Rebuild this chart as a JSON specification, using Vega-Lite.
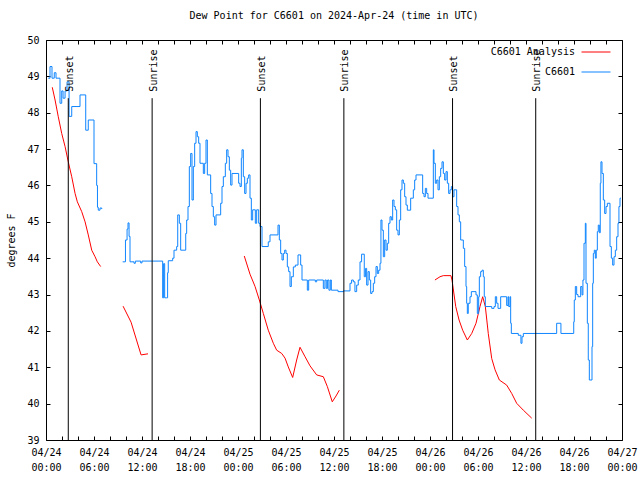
{
  "$schema": "https://vega.github.io/schema/vega-lite/v6.json",
  "width": 576,
  "height": 400,
  "autosize": "none",
  "padding": {"left": 46, "top": 40, "right": 18, "bottom": 40},
  "background": "white",
  "title": {"text": "Dew Point for C6601 on 2024-Apr-24 (time in UTC)", "font": "DejaVu Sans Mono", "fontSize": 10, "fontWeight": "normal", "color": "#000000", "anchor": "middle", "offset": 14},
  "config": {
    "font": "DejaVu Sans Mono",
    "view": {"stroke": "#000000", "strokeWidth": 1},
    "axis": {"labelFont": "DejaVu Sans Mono", "labelFontSize": 10, "labelColor": "#000000", "tickColor": "#000000", "tickSize": 4, "tickWidth": 1, "domain": false, "grid": false, "titleFont": "DejaVu Sans Mono", "titleFontSize": 10, "titleFontWeight": "normal", "titleColor": "#000000"}
  },
  "datasets": {
    "analysis": [
      {"seg":"a1","t":"2024-04-24T00:47:00Z","dp":48.7},{"seg":"a1","t":"2024-04-24T01:08:00Z","dp":48.35},{"seg":"a1","t":"2024-04-24T01:32:00Z","dp":47.89},{"seg":"a1","t":"2024-04-24T01:58:00Z","dp":47.43},{"seg":"a1","t":"2024-04-24T02:23:00Z","dp":47.07},{"seg":"a1","t":"2024-04-24T02:47:00Z","dp":46.65},{"seg":"a1","t":"2024-04-24T03:13:00Z","dp":46.24},{"seg":"a1","t":"2024-04-24T03:38:00Z","dp":45.78},{"seg":"a1","t":"2024-04-24T03:55:00Z","dp":45.55},{"seg":"a1","t":"2024-04-24T04:28:00Z","dp":45.28},{"seg":"a1","t":"2024-04-24T04:53:00Z","dp":45.0},{"seg":"a1","t":"2024-04-24T05:17:00Z","dp":44.64},{"seg":"a1","t":"2024-04-24T05:43:00Z","dp":44.22},{"seg":"a1","t":"2024-04-24T06:08:00Z","dp":44.04},{"seg":"a1","t":"2024-04-24T06:25:00Z","dp":43.9},{"seg":"a1","t":"2024-04-24T06:50:00Z","dp":43.77},
      {"seg":"a2","t":"2024-04-24T09:38:00Z","dp":42.68},{"seg":"a2","t":"2024-04-24T10:38:00Z","dp":42.24},{"seg":"a2","t":"2024-04-24T11:53:00Z","dp":41.34},{"seg":"a2","t":"2024-04-24T12:45:00Z","dp":41.37},
      {"seg":"a3","t":"2024-04-25T00:47:00Z","dp":44.06},{"seg":"a3","t":"2024-04-25T01:30:00Z","dp":43.56},{"seg":"a3","t":"2024-04-25T02:08:00Z","dp":43.22},{"seg":"a3","t":"2024-04-25T02:40:00Z","dp":42.85},{"seg":"a3","t":"2024-04-25T03:10:00Z","dp":42.48},{"seg":"a3","t":"2024-04-25T03:47:00Z","dp":42.02},{"seg":"a3","t":"2024-04-25T04:25:00Z","dp":41.66},{"seg":"a3","t":"2024-04-25T04:50:00Z","dp":41.47},{"seg":"a3","t":"2024-04-25T05:28:00Z","dp":41.38},{"seg":"a3","t":"2024-04-25T05:53:00Z","dp":41.25},{"seg":"a3","t":"2024-04-25T06:17:00Z","dp":41.01},{"seg":"a3","t":"2024-04-25T06:50:00Z","dp":40.72},{"seg":"a3","t":"2024-04-25T07:20:00Z","dp":41.2},{"seg":"a3","t":"2024-04-25T07:45:00Z","dp":41.55},{"seg":"a3","t":"2024-04-25T08:23:00Z","dp":41.29},{"seg":"a3","t":"2024-04-25T09:00:00Z","dp":41.04},{"seg":"a3","t":"2024-04-25T09:50:00Z","dp":40.79},{"seg":"a3","t":"2024-04-25T10:40:00Z","dp":40.74},{"seg":"a3","t":"2024-04-25T11:10:00Z","dp":40.47},{"seg":"a3","t":"2024-04-25T11:47:00Z","dp":40.05},{"seg":"a3","t":"2024-04-25T12:15:00Z","dp":40.21},{"seg":"a3","t":"2024-04-25T12:40:00Z","dp":40.37},
      {"seg":"a4","t":"2024-04-26T00:37:00Z","dp":43.4},{"seg":"a4","t":"2024-04-26T01:15:00Z","dp":43.49},{"seg":"a4","t":"2024-04-26T01:40:00Z","dp":43.52},{"seg":"a4","t":"2024-04-26T02:37:00Z","dp":43.52},{"seg":"a4","t":"2024-04-26T02:45:00Z","dp":43.4},{"seg":"a4","t":"2024-04-26T03:13:00Z","dp":42.67},{"seg":"a4","t":"2024-04-26T03:38:00Z","dp":42.3},{"seg":"a4","t":"2024-04-26T04:05:00Z","dp":42.02},{"seg":"a4","t":"2024-04-26T04:40:00Z","dp":41.75},{"seg":"a4","t":"2024-04-26T05:13:00Z","dp":41.93},{"seg":"a4","t":"2024-04-26T05:45:00Z","dp":42.21},{"seg":"a4","t":"2024-04-26T06:15:00Z","dp":42.67},{"seg":"a4","t":"2024-04-26T06:35:00Z","dp":42.94},{"seg":"a4","t":"2024-04-26T06:55:00Z","dp":42.67},{"seg":"a4","t":"2024-04-26T07:17:00Z","dp":41.93},{"seg":"a4","t":"2024-04-26T07:43:00Z","dp":41.24},{"seg":"a4","t":"2024-04-26T08:08:00Z","dp":40.93},{"seg":"a4","t":"2024-04-26T08:40:00Z","dp":40.65},{"seg":"a4","t":"2024-04-26T09:35:00Z","dp":40.51},{"seg":"a4","t":"2024-04-26T10:13:00Z","dp":40.28},{"seg":"a4","t":"2024-04-26T10:50:00Z","dp":40.01},{"seg":"a4","t":"2024-04-26T11:40:00Z","dp":39.82},{"seg":"a4","t":"2024-04-26T12:43:00Z","dp":39.6}
    ],
    "station": [
      {"seg":"b1","t":"2024-04-24T00:17:00Z","dp":48.95},{"seg":"b1","t":"2024-04-24T00:30:00Z","dp":49.27},{"seg":"b1","t":"2024-04-24T00:45:00Z","dp":48.95},{"seg":"b1","t":"2024-04-24T01:02:00Z","dp":49.1},{"seg":"b1","t":"2024-04-24T01:15:00Z","dp":48.95},{"seg":"b1","t":"2024-04-24T01:45:00Z","dp":48.26},{"seg":"b1","t":"2024-04-24T01:58:00Z","dp":48.6},{"seg":"b1","t":"2024-04-24T02:08:00Z","dp":48.4},{"seg":"b1","t":"2024-04-24T02:23:00Z","dp":48.6},{"seg":"b1","t":"2024-04-24T02:38:00Z","dp":48.85},{"seg":"b1","t":"2024-04-24T02:53:00Z","dp":47.9},{"seg":"b1","t":"2024-04-24T03:13:00Z","dp":48.17},{"seg":"b1","t":"2024-04-24T04:15:00Z","dp":48.49},{"seg":"b1","t":"2024-04-24T04:58:00Z","dp":47.52},{"seg":"b1","t":"2024-04-24T05:17:00Z","dp":47.8},{"seg":"b1","t":"2024-04-24T06:00:00Z","dp":46.6},{"seg":"b1","t":"2024-04-24T06:20:00Z","dp":46.0},{"seg":"b1","t":"2024-04-24T06:26:00Z","dp":45.4},{"seg":"b1","t":"2024-04-24T06:32:00Z","dp":45.32},{"seg":"b1","t":"2024-04-24T06:45:00Z","dp":45.38},{"seg":"b1","t":"2024-04-24T06:58:00Z","dp":45.35},
      {"seg":"b2","t":"2024-04-24T09:35:00Z","dp":43.9},{"seg":"b2","t":"2024-04-24T09:56:00Z","dp":44.5},{"seg":"b2","t":"2024-04-24T10:08:00Z","dp":44.8},{"seg":"b2","t":"2024-04-24T10:15:00Z","dp":44.97},{"seg":"b2","t":"2024-04-24T10:23:00Z","dp":44.6},{"seg":"b2","t":"2024-04-24T10:30:00Z","dp":43.9},{"seg":"b2","t":"2024-04-24T11:00:00Z","dp":43.86},{"seg":"b2","t":"2024-04-24T11:10:00Z","dp":43.92},{"seg":"b2","t":"2024-04-24T11:50:00Z","dp":43.87},{"seg":"b2","t":"2024-04-24T12:00:00Z","dp":43.92},{"seg":"b2","t":"2024-04-24T14:35:00Z","dp":42.91},{"seg":"b2","t":"2024-04-24T14:42:00Z","dp":43.85},{"seg":"b2","t":"2024-04-24T14:50:00Z","dp":42.91},{"seg":"b2","t":"2024-04-24T15:05:00Z","dp":42.91},{"seg":"b2","t":"2024-04-24T15:12:00Z","dp":43.6},{"seg":"b2","t":"2024-04-24T15:17:00Z","dp":43.93},{"seg":"b2","t":"2024-04-24T15:50:00Z","dp":44.0},{"seg":"b2","t":"2024-04-24T16:00:00Z","dp":44.22},{"seg":"b2","t":"2024-04-24T16:20:00Z","dp":44.32},{"seg":"b2","t":"2024-04-24T16:28:00Z","dp":45.19},{"seg":"b2","t":"2024-04-24T16:40:00Z","dp":44.96},{"seg":"b2","t":"2024-04-24T16:50:00Z","dp":44.22},{"seg":"b2","t":"2024-04-24T17:28:00Z","dp":44.68},{"seg":"b2","t":"2024-04-24T17:35:00Z","dp":45.05},{"seg":"b2","t":"2024-04-24T17:45:00Z","dp":45.42},{"seg":"b2","t":"2024-04-24T17:55:00Z","dp":46.52},{"seg":"b2","t":"2024-04-24T18:05:00Z","dp":46.88},{"seg":"b2","t":"2024-04-24T18:15:00Z","dp":45.6},{"seg":"b2","t":"2024-04-24T18:25:00Z","dp":46.52},{"seg":"b2","t":"2024-04-24T18:35:00Z","dp":47.16},{"seg":"b2","t":"2024-04-24T18:45:00Z","dp":47.48},{"seg":"b2","t":"2024-04-24T18:55:00Z","dp":47.34},{"seg":"b2","t":"2024-04-24T19:05:00Z","dp":47.16},{"seg":"b2","t":"2024-04-24T19:15:00Z","dp":46.61},{"seg":"b2","t":"2024-04-24T19:40:00Z","dp":46.33},{"seg":"b2","t":"2024-04-24T19:50:00Z","dp":46.61},{"seg":"b2","t":"2024-04-24T20:00:00Z","dp":47.25},{"seg":"b2","t":"2024-04-24T20:10:00Z","dp":46.29},{"seg":"b2","t":"2024-04-24T20:35:00Z","dp":45.78},{"seg":"b2","t":"2024-04-24T20:45:00Z","dp":45.42},{"seg":"b2","t":"2024-04-24T20:55:00Z","dp":45.14},{"seg":"b2","t":"2024-04-24T21:05:00Z","dp":44.91},{"seg":"b2","t":"2024-04-24T21:15:00Z","dp":45.19},{"seg":"b2","t":"2024-04-24T21:50:00Z","dp":45.51},{"seg":"b2","t":"2024-04-24T22:00:00Z","dp":45.97},{"seg":"b2","t":"2024-04-24T22:10:00Z","dp":46.24},{"seg":"b2","t":"2024-04-24T22:25:00Z","dp":46.61},{"seg":"b2","t":"2024-04-24T22:35:00Z","dp":46.98},{"seg":"b2","t":"2024-04-24T22:45:00Z","dp":46.79},{"seg":"b2","t":"2024-04-24T22:55:00Z","dp":46.42},{"seg":"b2","t":"2024-04-24T23:05:00Z","dp":46.01},{"seg":"b2","t":"2024-04-24T23:15:00Z","dp":46.33},
      {"seg":"b2","t":"2024-04-25T00:05:00Z","dp":46.06},{"seg":"b2","t":"2024-04-25T00:15:00Z","dp":45.97},{"seg":"b2","t":"2024-04-25T00:25:00Z","dp":46.75},{"seg":"b2","t":"2024-04-25T00:30:00Z","dp":46.98},{"seg":"b2","t":"2024-04-25T00:40:00Z","dp":46.24},{"seg":"b2","t":"2024-04-25T00:50:00Z","dp":45.78},{"seg":"b2","t":"2024-04-25T01:00:00Z","dp":46.06},{"seg":"b2","t":"2024-04-25T01:10:00Z","dp":46.2},{"seg":"b2","t":"2024-04-25T01:20:00Z","dp":46.29},{"seg":"b2","t":"2024-04-25T01:30:00Z","dp":45.65},{"seg":"b2","t":"2024-04-25T01:40:00Z","dp":45.05},{"seg":"b2","t":"2024-04-25T01:50:00Z","dp":45.33},{"seg":"b2","t":"2024-04-25T02:10:00Z","dp":44.96},{"seg":"b2","t":"2024-04-25T02:20:00Z","dp":45.33},{"seg":"b2","t":"2024-04-25T02:35:00Z","dp":44.96},{"seg":"b2","t":"2024-04-25T02:45:00Z","dp":44.87},{"seg":"b2","t":"2024-04-25T03:00:00Z","dp":44.32},{"seg":"b2","t":"2024-04-25T03:47:00Z","dp":44.45},{"seg":"b2","t":"2024-04-25T04:00:00Z","dp":44.64},{"seg":"b2","t":"2024-04-25T05:00:00Z","dp":44.91},{"seg":"b2","t":"2024-04-25T05:10:00Z","dp":44.5},{"seg":"b2","t":"2024-04-25T05:20:00Z","dp":44.13},{"seg":"b2","t":"2024-04-25T05:30:00Z","dp":43.95},{"seg":"b2","t":"2024-04-25T05:40:00Z","dp":44.13},{"seg":"b2","t":"2024-04-25T05:50:00Z","dp":44.22},{"seg":"b2","t":"2024-04-25T06:00:00Z","dp":44.13},{"seg":"b2","t":"2024-04-25T06:10:00Z","dp":43.76},{"seg":"b2","t":"2024-04-25T06:20:00Z","dp":43.63},{"seg":"b2","t":"2024-04-25T06:30:00Z","dp":43.22},{"seg":"b2","t":"2024-04-25T06:40:00Z","dp":43.49},{"seg":"b2","t":"2024-04-25T06:55:00Z","dp":43.76},{"seg":"b2","t":"2024-04-25T07:10:00Z","dp":43.81},{"seg":"b2","t":"2024-04-25T07:30:00Z","dp":44.09},{"seg":"b2","t":"2024-04-25T07:50:00Z","dp":43.81},{"seg":"b2","t":"2024-04-25T08:00:00Z","dp":43.4},{"seg":"b2","t":"2024-04-25T08:40:00Z","dp":43.12},{"seg":"b2","t":"2024-04-25T08:50:00Z","dp":43.4},{"seg":"b2","t":"2024-04-25T09:40:00Z","dp":43.35},{"seg":"b2","t":"2024-04-25T09:50:00Z","dp":43.4},{"seg":"b2","t":"2024-04-25T10:40:00Z","dp":43.17},{"seg":"b2","t":"2024-04-25T10:52:00Z","dp":43.4},{"seg":"b2","t":"2024-04-25T11:02:00Z","dp":43.17},{"seg":"b2","t":"2024-04-25T11:12:00Z","dp":43.4},{"seg":"b2","t":"2024-04-25T11:22:00Z","dp":43.12},{"seg":"b2","t":"2024-04-25T11:32:00Z","dp":43.4},{"seg":"b2","t":"2024-04-25T11:40:00Z","dp":43.12},{"seg":"b2","t":"2024-04-25T12:30:00Z","dp":43.08},{"seg":"b2","t":"2024-04-25T13:10:00Z","dp":43.1},{"seg":"b2","t":"2024-04-25T14:00:00Z","dp":43.31},{"seg":"b2","t":"2024-04-25T14:12:00Z","dp":43.4},{"seg":"b2","t":"2024-04-25T14:25:00Z","dp":43.35},{"seg":"b2","t":"2024-04-25T14:37:00Z","dp":43.08},{"seg":"b2","t":"2024-04-25T14:50:00Z","dp":43.26},{"seg":"b2","t":"2024-04-25T15:02:00Z","dp":43.4},{"seg":"b2","t":"2024-04-25T15:15:00Z","dp":43.9},{"seg":"b2","t":"2024-04-25T15:27:00Z","dp":44.11},{"seg":"b2","t":"2024-04-25T15:47:00Z","dp":43.49},{"seg":"b2","t":"2024-04-25T15:57:00Z","dp":43.72},{"seg":"b2","t":"2024-04-25T16:05:00Z","dp":43.26},{"seg":"b2","t":"2024-04-25T16:15:00Z","dp":43.63},{"seg":"b2","t":"2024-04-25T16:25:00Z","dp":43.4},{"seg":"b2","t":"2024-04-25T16:35:00Z","dp":43.03},{"seg":"b2","t":"2024-04-25T16:45:00Z","dp":43.08},{"seg":"b2","t":"2024-04-25T16:55:00Z","dp":43.31},{"seg":"b2","t":"2024-04-25T17:05:00Z","dp":43.49},{"seg":"b2","t":"2024-04-25T17:15:00Z","dp":43.77},{"seg":"b2","t":"2024-04-25T17:25:00Z","dp":43.58},{"seg":"b2","t":"2024-04-25T17:35:00Z","dp":43.67},{"seg":"b2","t":"2024-04-25T17:45:00Z","dp":43.86},{"seg":"b2","t":"2024-04-25T17:52:00Z","dp":45.05},{"seg":"b2","t":"2024-04-25T18:00:00Z","dp":44.77},{"seg":"b2","t":"2024-04-25T18:10:00Z","dp":44.04},{"seg":"b2","t":"2024-04-25T18:20:00Z","dp":44.5},{"seg":"b2","t":"2024-04-25T18:30:00Z","dp":44.22},{"seg":"b2","t":"2024-04-25T18:40:00Z","dp":44.41},{"seg":"b2","t":"2024-04-25T18:50:00Z","dp":44.96},{"seg":"b2","t":"2024-04-25T19:00:00Z","dp":45.14},{"seg":"b2","t":"2024-04-25T19:10:00Z","dp":45.05},{"seg":"b2","t":"2024-04-25T19:20:00Z","dp":45.6},{"seg":"b2","t":"2024-04-25T19:30:00Z","dp":45.42},{"seg":"b2","t":"2024-04-25T19:40:00Z","dp":45.33},{"seg":"b2","t":"2024-04-25T19:50:00Z","dp":44.77},{"seg":"b2","t":"2024-04-25T20:00:00Z","dp":44.64},{"seg":"b2","t":"2024-04-25T20:10:00Z","dp":45.05},{"seg":"b2","t":"2024-04-25T20:20:00Z","dp":45.88},{"seg":"b2","t":"2024-04-25T20:30:00Z","dp":46.15},{"seg":"b2","t":"2024-04-25T20:40:00Z","dp":46.06},{"seg":"b2","t":"2024-04-25T20:50:00Z","dp":45.69},{"seg":"b2","t":"2024-04-25T21:00:00Z","dp":45.46},{"seg":"b2","t":"2024-04-25T21:10:00Z","dp":45.32},{"seg":"b2","t":"2024-04-25T21:35:00Z","dp":45.65},{"seg":"b2","t":"2024-04-25T21:55:00Z","dp":45.88},{"seg":"b2","t":"2024-04-25T22:05:00Z","dp":46.15},{"seg":"b2","t":"2024-04-25T22:15:00Z","dp":46.29},{"seg":"b2","t":"2024-04-25T23:05:00Z","dp":45.78},{"seg":"b2","t":"2024-04-25T23:15:00Z","dp":45.69},{"seg":"b2","t":"2024-04-25T23:25:00Z","dp":45.92},{"seg":"b2","t":"2024-04-25T23:35:00Z","dp":45.78},{"seg":"b2","t":"2024-04-25T23:45:00Z","dp":45.65},
      {"seg":"b2","t":"2024-04-26T00:25:00Z","dp":46.98},{"seg":"b2","t":"2024-04-26T00:30:00Z","dp":46.61},{"seg":"b2","t":"2024-04-26T00:40:00Z","dp":46.06},{"seg":"b2","t":"2024-04-26T00:50:00Z","dp":46.15},{"seg":"b2","t":"2024-04-26T01:00:00Z","dp":45.88},{"seg":"b2","t":"2024-04-26T01:10:00Z","dp":46.24},{"seg":"b2","t":"2024-04-26T01:20:00Z","dp":46.47},{"seg":"b2","t":"2024-04-26T01:30:00Z","dp":46.65},{"seg":"b2","t":"2024-04-26T01:40:00Z","dp":46.33},{"seg":"b2","t":"2024-04-26T01:50:00Z","dp":46.15},{"seg":"b2","t":"2024-04-26T02:00:00Z","dp":46.38},{"seg":"b2","t":"2024-04-26T02:10:00Z","dp":46.06},{"seg":"b2","t":"2024-04-26T02:20:00Z","dp":45.78},{"seg":"b2","t":"2024-04-26T02:30:00Z","dp":45.88},{"seg":"b2","t":"2024-04-26T02:40:00Z","dp":45.97},{"seg":"b2","t":"2024-04-26T02:50:00Z","dp":45.69},{"seg":"b2","t":"2024-04-26T03:00:00Z","dp":45.88},{"seg":"b2","t":"2024-04-26T03:20:00Z","dp":45.42},{"seg":"b2","t":"2024-04-26T03:30:00Z","dp":45.19},{"seg":"b2","t":"2024-04-26T03:40:00Z","dp":45.0},{"seg":"b2","t":"2024-04-26T03:50:00Z","dp":44.5},{"seg":"b2","t":"2024-04-26T04:10:00Z","dp":44.27},{"seg":"b2","t":"2024-04-26T04:20:00Z","dp":43.77},{"seg":"b2","t":"2024-04-26T04:30:00Z","dp":43.22},{"seg":"b2","t":"2024-04-26T04:35:00Z","dp":42.76},{"seg":"b2","t":"2024-04-26T04:40:00Z","dp":42.48},{"seg":"b2","t":"2024-04-26T04:47:00Z","dp":42.76},{"seg":"b2","t":"2024-04-26T05:00:00Z","dp":42.94},{"seg":"b2","t":"2024-04-26T05:10:00Z","dp":43.08},{"seg":"b2","t":"2024-04-26T05:45:00Z","dp":42.99},{"seg":"b2","t":"2024-04-26T05:55:00Z","dp":42.48},{"seg":"b2","t":"2024-04-26T06:05:00Z","dp":42.94},{"seg":"b2","t":"2024-04-26T06:10:00Z","dp":43.49},{"seg":"b2","t":"2024-04-26T06:20:00Z","dp":43.63},{"seg":"b2","t":"2024-04-26T06:30:00Z","dp":43.67},{"seg":"b2","t":"2024-04-26T06:40:00Z","dp":43.49},{"seg":"b2","t":"2024-04-26T06:47:00Z","dp":42.94},{"seg":"b2","t":"2024-04-26T06:55:00Z","dp":42.67},{"seg":"b2","t":"2024-04-26T07:43:00Z","dp":42.62},{"seg":"b2","t":"2024-04-26T08:00:00Z","dp":42.67},{"seg":"b2","t":"2024-04-26T08:10:00Z","dp":42.94},{"seg":"b2","t":"2024-04-26T08:20:00Z","dp":42.76},{"seg":"b2","t":"2024-04-26T08:30:00Z","dp":42.62},{"seg":"b2","t":"2024-04-26T08:50:00Z","dp":42.94},{"seg":"b2","t":"2024-04-26T09:35:00Z","dp":42.7},{"seg":"b2","t":"2024-04-26T09:45:00Z","dp":42.94},{"seg":"b2","t":"2024-04-26T09:50:00Z","dp":42.67},{"seg":"b2","t":"2024-04-26T10:00:00Z","dp":42.94},{"seg":"b2","t":"2024-04-26T10:05:00Z","dp":42.21},{"seg":"b2","t":"2024-04-26T10:10:00Z","dp":41.93},{"seg":"b2","t":"2024-04-26T11:02:00Z","dp":41.88},{"seg":"b2","t":"2024-04-26T11:22:00Z","dp":41.66},{"seg":"b2","t":"2024-04-26T11:30:00Z","dp":41.84},{"seg":"b2","t":"2024-04-26T11:40:00Z","dp":41.93},{"seg":"b2","t":"2024-04-26T15:50:00Z","dp":42.21},{"seg":"b2","t":"2024-04-26T16:22:00Z","dp":41.93},{"seg":"b2","t":"2024-04-26T17:58:00Z","dp":42.25},{"seg":"b2","t":"2024-04-26T18:02:00Z","dp":42.85},{"seg":"b2","t":"2024-04-26T18:10:00Z","dp":43.22},{"seg":"b2","t":"2024-04-26T18:20:00Z","dp":43.0},{"seg":"b2","t":"2024-04-26T18:30:00Z","dp":42.94},{"seg":"b2","t":"2024-04-26T18:50:00Z","dp":43.22},{"seg":"b2","t":"2024-04-26T19:00:00Z","dp":42.99},{"seg":"b2","t":"2024-04-26T19:07:00Z","dp":43.4},{"seg":"b2","t":"2024-04-26T19:15:00Z","dp":44.41},{"seg":"b2","t":"2024-04-26T19:25:00Z","dp":44.96},{"seg":"b2","t":"2024-04-26T19:30:00Z","dp":43.31},{"seg":"b2","t":"2024-04-26T19:40:00Z","dp":42.21},{"seg":"b2","t":"2024-04-26T19:47:00Z","dp":41.2},{"seg":"b2","t":"2024-04-26T19:55:00Z","dp":40.65},{"seg":"b2","t":"2024-04-26T20:15:00Z","dp":41.57},{"seg":"b2","t":"2024-04-26T20:20:00Z","dp":43.31},{"seg":"b2","t":"2024-04-26T20:25:00Z","dp":44.13},{"seg":"b2","t":"2024-04-26T20:32:00Z","dp":44.22},{"seg":"b2","t":"2024-04-26T20:40:00Z","dp":44.0},{"seg":"b2","t":"2024-04-26T20:47:00Z","dp":44.22},{"seg":"b2","t":"2024-04-26T20:55:00Z","dp":44.73},{"seg":"b2","t":"2024-04-26T21:02:00Z","dp":44.91},{"seg":"b2","t":"2024-04-26T21:10:00Z","dp":44.7},{"seg":"b2","t":"2024-04-26T21:17:00Z","dp":46.06},{"seg":"b2","t":"2024-04-26T21:22:00Z","dp":46.65},{"seg":"b2","t":"2024-04-26T21:30:00Z","dp":46.33},{"seg":"b2","t":"2024-04-26T21:40:00Z","dp":45.6},{"seg":"b2","t":"2024-04-26T21:50:00Z","dp":45.23},{"seg":"b2","t":"2024-04-26T22:00:00Z","dp":45.42},{"seg":"b2","t":"2024-04-26T22:10:00Z","dp":45.51},{"seg":"b2","t":"2024-04-26T22:30:00Z","dp":44.32},{"seg":"b2","t":"2024-04-26T22:40:00Z","dp":44.0},{"seg":"b2","t":"2024-04-26T22:50:00Z","dp":43.81},{"seg":"b2","t":"2024-04-26T23:00:00Z","dp":44.04},{"seg":"b2","t":"2024-04-26T23:10:00Z","dp":44.22},{"seg":"b2","t":"2024-04-26T23:20:00Z","dp":44.59},{"seg":"b2","t":"2024-04-26T23:30:00Z","dp":44.96},{"seg":"b2","t":"2024-04-26T23:37:00Z","dp":45.42},{"seg":"b2","t":"2024-04-26T23:45:00Z","dp":45.65},{"seg":"b2","t":"2024-04-26T23:52:00Z","dp":45.65}
    ],
    "sun": [
      {"t":"2024-04-24T02:47:00Z","event":"Sunset"},{"t":"2024-04-24T13:16:00Z","event":"Sunrise"},{"t":"2024-04-25T02:48:00Z","event":"Sunset"},{"t":"2024-04-25T13:14:00Z","event":"Sunrise"},{"t":"2024-04-26T02:49:00Z","event":"Sunset"},{"t":"2024-04-26T13:13:00Z","event":"Sunrise"}
    ]
  },
  "resolve": {"axis": {"x": "independent", "y": "independent"}},
  "layer": [
    {
      "data": {"name": "analysis"},
      "mark": {"type": "line", "strokeWidth": 1, "interpolate": "linear"},
      "encoding": {
        "x": {"field": "t", "type": "temporal",
              "scale": {"type": "utc", "domain": [1713916800000, 1714176000000], "nice": false},
              "axis": {"orient": "bottom", "title": null, "offset": -4, "labelOverlap": false, "labelSeparation": 0,
                       "values": [1713916800000,1713924000000,1713931200000,1713938400000,1713945600000,1713952800000,1713960000000,1713967200000,1713974400000,1713981600000,1713988800000,1713996000000,1714003200000,1714010400000,1714017600000,1714024800000,1714032000000,1714039200000,1714046400000,1714053600000,1714060800000,1714068000000,1714075200000,1714082400000,1714089600000,1714096800000,1714104000000,1714111200000,1714118400000,1714125600000,1714132800000,1714140000000,1714147200000,1714154400000,1714161600000,1714168800000,1714176000000],
                       "labelExpr": "utchours(datum.value) % 6 == 0 ? [utcFormat(datum.value, '%m/%d'), utcFormat(datum.value, '%H:%M')] : ''",
                       "labelFlush": false, "labelBaseline": "top", "labelLineHeight": 15, "labelPadding": 7}},
        "y": {"field": "dp", "type": "quantitative",
              "scale": {"domain": [39, 50], "nice": false, "zero": false},
              "axis": {"orient": "left", "offset": -4, "labelOverlap": false, "values": [39,40,41,42,43,44,45,46,47,48,49,50], "labelPadding": 7, "title": "degrees F", "titleX": -39, "titleY": 200, "titleAngle": 270, "titleAlign": "center", "titleBaseline": "middle"}},
        "detail": {"field": "seg"},
        "color": {"datum": "C6601 Analysis", "type": "nominal",
                  "scale": {"domain": ["C6601 Analysis", "C6601"], "range": ["#ff0000", "#0f85ff"]},
                  "legend": {"title": null, "orient": "none", "legendX": 535, "legendY": -3, "labelFont": "DejaVu Sans Mono", "labelFontSize": 10, "labelColor": "#000000", "labelAlign": "right", "labelOffset": -36, "symbolType": "stroke", "symbolSize": 841, "symbolStrokeWidth": 1, "rowPadding": -23, "padding": 0}}
      }
    },
    {
      "data": {"name": "station"},
      "mark": {"type": "line", "strokeWidth": 1, "interpolate": "step-after"},
      "encoding": {
        "x": {"field": "t", "type": "temporal",
              "axis": {"orient": "top", "title": null, "labels": false, "offset": -4,
                       "values": [1713916800000,1713924000000,1713931200000,1713938400000,1713945600000,1713952800000,1713960000000,1713967200000,1713974400000,1713981600000,1713988800000,1713996000000,1714003200000,1714010400000,1714017600000,1714024800000,1714032000000,1714039200000,1714046400000,1714053600000,1714060800000,1714068000000,1714075200000,1714082400000,1714089600000,1714096800000,1714104000000,1714111200000,1714118400000,1714125600000,1714132800000,1714140000000,1714147200000,1714154400000,1714161600000,1714168800000,1714176000000]}},
        "y": {"field": "dp", "type": "quantitative",
              "axis": {"orient": "right", "title": null, "labels": false, "offset": -4, "values": [39,40,41,42,43,44,45,46,47,48,49,50]}},
        "detail": {"field": "seg"},
        "color": {"datum": "C6601", "type": "nominal"}
      }
    },
    {
      "data": {"name": "sun"},
      "mark": {"type": "rule", "color": "#000000", "strokeWidth": 1},
      "encoding": {
        "x": {"field": "t", "type": "temporal", "axis": null},
        "y": {"datum": 39, "type": "quantitative", "axis": null},
        "y2": {"datum": 48.4}
      }
    },
    {
      "data": {"name": "sun"},
      "mark": {"type": "text", "angle": 270, "align": "left", "baseline": "middle", "dy": 1.5, "font": "DejaVu Sans Mono", "fontSize": 10, "color": "#000000"},
      "encoding": {
        "x": {"field": "t", "type": "temporal", "axis": null},
        "y": {"datum": 48.58, "type": "quantitative", "axis": null},
        "text": {"field": "event"}
      }
    }
  ]
}
